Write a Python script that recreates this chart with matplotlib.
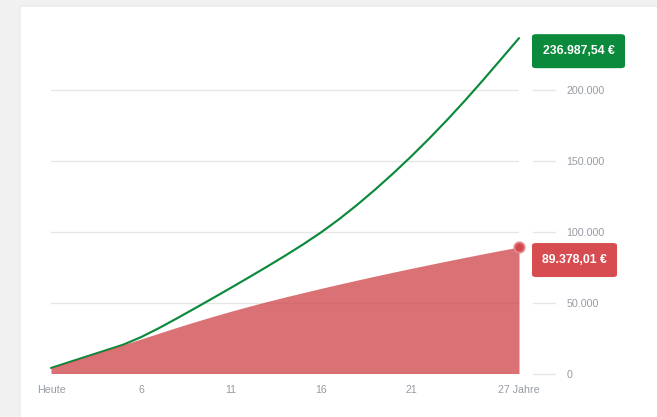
import matplotlib
matplotlib.use("Agg")
import matplotlib.pyplot as plt
from matplotlib.patches import FancyBboxPatch

# ---- data ----
years = list(range(1, 28))
endwert = [3900, 8000, 12100, 16200, 20300, 25700, 32100, 39000, 46100, 53300,
           60600, 68000, 75500, 83200, 91200, 99700, 109000, 119100, 129900,
           141300, 153300, 165900, 179100, 192900, 207300, 222100, 236987.54]
einzahlung = [3900, 8000, 12100, 16200, 20300, 24400, 28500, 32600, 36550, 40350,
              44000, 47500, 50850, 54050, 57100, 60150, 63100, 65980, 68800,
              71560, 74260, 76910, 79510, 82060, 84560, 87010, 89378.01]
xtick_pos = [1, 6, 11, 16, 21, 27]
xtick_labels = ["Heute", "6", "11", "16", "21", "27 Jahre"]
ytick_pos = [0, 50000, 100000, 150000, 200000]
green_label = "236.987,54 €"
red_label = "89.378,01 €"

plt.rcParams['font.family'] = ['Liberation Sans', 'DejaVu Sans']

W, H = 657, 417
fig = plt.figure(figsize=(W / 100, H / 100), dpi=100)
fig.patch.set_facecolor('#f1f1f1')

# white card
card = FancyBboxPatch((20 / W, -0.05), 1.0, 1.05 - 6 / H,
                      boxstyle="round,pad=0,rounding_size=0.006",
                      transform=fig.transFigure, facecolor='white',
                      edgecolor='#e9e9e9', linewidth=0.8, zorder=-5)
fig.patches.append(card)

ax_left, ax_right = 51, 519
y0_px, top_px = 373.5, 19.75
ax = fig.add_axes([ax_left / W, (H - y0_px) / H, (ax_right - ax_left) / W,
                   (y0_px - top_px) / H])
ax.set_zorder(1)
ax.set_facecolor('none')
ax.set_xlim(1, 27)
ax.set_ylim(0, 250000)
for s in ax.spines.values():
    s.set_visible(False)

grid_c = '#e6e6e6'
for v in ytick_pos:
    ax.axhline(v, color=grid_c, lw=1, zorder=1)
    ax.plot([1.03, 1.077], [v, v], color=grid_c, lw=1, clip_on=False,
            transform=ax.get_yaxis_transform(), zorder=1)

green = '#0b8a3c'
ax.plot(years, endwert, color=green, lw=1.55, zorder=2, solid_capstyle='round',
        solid_joinstyle='round', clip_on=False)
ax.fill_between(years, 0, einzahlung, color='#cc3b3f', alpha=0.72, lw=0, zorder=3)
ax.plot([years[-1]], [einzahlung[-1]], 'o', ms=7.5, mfc='#d44a4e', mec='#e68a8c',
        mew=1.3, zorder=5, clip_on=False)

tick_c = '#969ba4'
ax.set_xticks(xtick_pos)
ax.set_xticklabels(xtick_labels)
ax.tick_params(axis='x', length=0, pad=8, labelsize=7.7, colors=tick_c)
ax.yaxis.tick_right()
ax.set_yticks(ytick_pos)
ax.set_yticklabels([f"{v:,.0f}".replace(",", ".") for v in ytick_pos])
ax.tick_params(axis='y', length=0, pad=34, labelsize=7.7, colors=tick_c)
for lab in ax.get_yticklabels():
    lab.set_horizontalalignment('left')

# value boxes
fig.canvas.draw()
inv = fig.transFigure.inverted()


def value_box(xv, yv, text, color, width_px):
    ex, ey = ax.transData.transform((xv, yv))
    h_px = 34
    cx_left = ex + 13
    cy = ey - 13
    (fx, fy) = inv.transform((cx_left, cy - h_px / 2))
    (fx2, fy2) = inv.transform((cx_left + width_px, cy + h_px / 2))
    box = FancyBboxPatch((fx, fy), fx2 - fx, fy2 - fy,
                         boxstyle="round,pad=0,rounding_size=0.006",
                         transform=fig.transFigure, facecolor=color,
                         edgecolor='none', zorder=6)
    fig.patches.append(box)
    fig.text((fx + fx2) / 2, (fy + fy2) / 2, text, color='white',
             fontsize=8.8, fontweight='bold', ha='center', va='center', zorder=7)


value_box(years[-1], endwert[-1], green_label, green, 93)
value_box(years[-1], einzahlung[-1], red_label, '#d64c50', 85)

fig.savefig('out.png', dpi=100, facecolor=fig.get_facecolor())
